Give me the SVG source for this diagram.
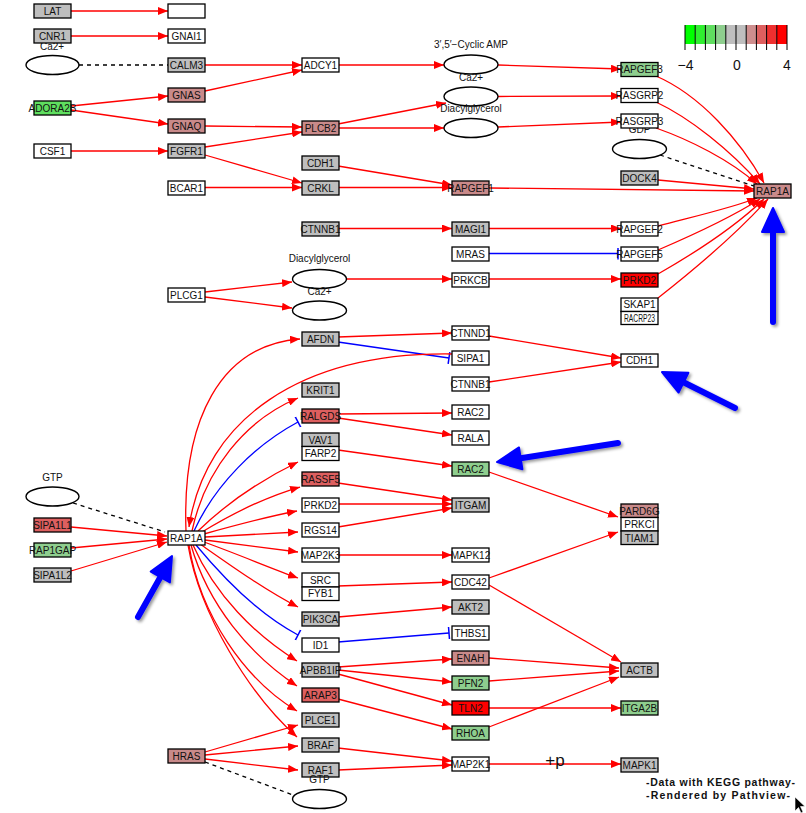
<svg xmlns="http://www.w3.org/2000/svg" width="806" height="813" viewBox="0 0 806 813">
<style>
rect.n{stroke:#000;stroke-width:1.3}
.w{fill:#fff}.g{fill:#bebebe}.lr{fill:#c98a8a}.mr{fill:#dd5f5f}.r{fill:#ff0000}.lg{fill:#8ece8e}.bg{fill:#5fde5f}
text{font-family:"Liberation Sans",Arial,sans-serif;fill:#111}
text.t{font-size:10px;text-anchor:middle}
ellipse{fill:#fff;stroke:#000;stroke-width:1.4}
#conn path{fill:none;stroke:#ff0000;stroke-width:1.3;marker-end:url(#ah)}
#conn path.b{stroke:#0000ff;marker-end:url(#tb)}
#conn path.d{stroke:#000;stroke-dasharray:4 4;marker-end:none}
</style>
<defs>
<marker id="ah" markerWidth="10" markerHeight="8" refX="10" refY="4" orient="auto" markerUnits="userSpaceOnUse"><path d="M0,0 L10,4 L0,8 z" fill="#ff0000"/></marker>
<marker id="tb" markerWidth="3" markerHeight="12" refX="1.5" refY="6" orient="auto" markerUnits="userSpaceOnUse"><path d="M1.5,0 V12" stroke="#0000ff" stroke-width="1.5"/></marker>
<filter id="sh" x="-20%" y="-20%" width="140%" height="140%"><feDropShadow dx="2" dy="2" stdDeviation="1.5" flood-color="#000" flood-opacity="0.4"/></filter>
</defs>
<rect width="806" height="813" fill="#fff"/>

<g id="conn">
<path d="M71,11 L168,11"/>
<path d="M71,36 L168,36"/>
<path class="d" d="M79,65 L168,65"/>
<path d="M205,65 L302,65"/>
<path d="M205,91 L302,70"/>
<path d="M71,106 L168,96"/>
<path d="M71,110 L168,124"/>
<path d="M205,126 L302,127"/>
<path d="M205,147 L302,132"/>
<path d="M71,151 L168,151"/>
<path d="M205,155 L302,183"/>
<path d="M205,187.5 L302,187.5"/>
<path d="M338,65 L444,65"/>
<path d="M338,124 L446,103"/>
<path d="M338,128 L444,128"/>
<path d="M338,166 L452,185"/>
<path d="M338,187.5 L452,187.5"/>
<path d="M498,65 L621,69"/>
<path d="M498,96.5 L621,96"/>
<path d="M498,127 L621,122"/>
<path d="M489,188 L754,191"/>
<path d="M656,76 C700,95 740,140 764,183"/>
<path d="M656,102 C690,118 730,150 760,184"/>
<path d="M656,128 C690,140 730,160 757,184"/>
<path class="d" d="M660,155 L754,186"/>
<path d="M658,180 L754,189"/>
<path d="M338,228.5 L452,228.5"/>
<path d="M489,228.5 L621,228.5"/>
<path class="b" d="M489,253.5 L618,253.5"/>
<path d="M205,292 L292,282"/>
<path d="M205,297 L292,308"/>
<path d="M346,279 L452,279"/>
<path d="M489,279 L621,279"/>
<path d="M658,226 C700,215 735,207 757,198"/>
<path d="M658,250 C700,232 735,215 760,199"/>
<path d="M658,274 C700,250 740,222 764,199"/>
<path d="M658,298 C700,265 740,230 768,199"/>

<path d="M338,337 L452,333"/>
<path class="b" d="M338,342 L449,358"/>
<path d="M489,336 L621,358"/>
<path d="M489,382 L621,362"/>
<path d="M452,354 C300,352 205,420 189,527"/>

<path d="M186,531 C182,420 220,345 300,339"/>
<path d="M192,531 C205,470 245,420 298,398"/>
<path class="b" d="M194,531 C215,485 255,445 298,422"/>
<path d="M198,531 C230,500 265,478 298,462"/>
<path d="M202,532 C235,512 265,497 300,487"/>
<path d="M204,534 C240,524 270,516 297,511"/>
<path d="M205,537 L298,532"/>
<path d="M205,540 L298,552"/>
<path d="M204,542 C240,555 270,568 298,578"/>
<path d="M200,544 C230,565 265,590 298,607"/>
<path class="b" d="M196,545 C225,580 260,615 298,635"/>
<path d="M193,545 C215,595 255,635 297,661"/>
<path d="M191,545 C208,605 250,655 297,686"/>
<path d="M189,545 C200,615 245,680 297,711"/>
<path d="M188,545 C200,615 250,695 297,737"/>

<path class="d" d="M73,503 L165,532"/>
<path d="M71,527 L167,536"/>
<path d="M71,548 L167,539"/>
<path d="M71,571 L167,542"/>

<path d="M338,414 L452,413"/>
<path d="M338,418 L452,435"/>
<path d="M338,450 L452,466"/>
<path d="M489,472 L618,517"/>
<path d="M489,578 L618,532"/>
<path d="M489,585 L621,662"/>
<path d="M338,483 L452,500"/>
<path d="M338,504 L452,504"/>
<path d="M338,527 L452,508"/>
<path d="M338,555 L452,555"/>
<path d="M338,586 L452,582"/>
<path d="M338,617 L452,607"/>
<path class="b" d="M338,642 L449,633"/>
<path d="M338,667 L452,659"/>
<path d="M338,670 L452,682"/>
<path d="M338,674 L452,705"/>
<path d="M338,699 L452,729"/>
<path d="M489,658 L619,668"/>
<path d="M489,681 L619,671"/>
<path d="M489,708 L621,708"/>
<path d="M489,727 L619,677"/>
<path d="M338,748 L452,761"/>
<path d="M338,770 L452,765"/>
<path d="M489,764 L621,764"/>
<path d="M205,752 L298,725"/>
<path d="M205,755 L298,746"/>
<path d="M205,759 L298,770"/>
<path class="d" d="M205,762 L293,795"/>
</g>

<!-- compounds -->
<g id="c_ca_left"><text class="t" x="52" y="50">Ca2+</text><ellipse cx="52.5" cy="65" rx="26.5" ry="9.5"/></g>
<g id="c_camp"><text class="t" x="471" y="47.5">3′,5′−Cyclic AMP</text><ellipse cx="471" cy="64.5" rx="27" ry="9.5"/></g>
<g id="c_ca2"><text class="t" x="471" y="81">Ca2+</text><ellipse cx="471" cy="96.5" rx="27" ry="9.5"/></g>
<g id="c_dag2"><text class="t" x="471" y="111.5">Diacylglycerol</text><ellipse cx="471" cy="128" rx="27" ry="9.5"/></g>
<g id="c_gdp"><text class="t" x="639.5" y="132.5">GDP</text><ellipse cx="639.5" cy="149" rx="27" ry="9.5"/></g>
<g id="c_dag1"><text class="t" x="319.5" y="262">Diacylglycerol</text><ellipse cx="319.5" cy="279" rx="27" ry="9.5"/></g>
<g id="c_ca1"><text class="t" x="319.5" y="294.5">Ca2+</text><ellipse cx="319.5" cy="310.5" rx="27" ry="9.5"/></g>
<g id="c_gtp1"><text class="t" x="52.5" y="480.5">GTP</text><ellipse cx="52.5" cy="496.5" rx="26.5" ry="9.5"/></g>
<g id="c_gtp2"><ellipse cx="319.5" cy="799" rx="27" ry="9.5"/></g>

<!-- column 1 -->
<g id="n_lat"><rect class="n g" x="34" y="4" width="37" height="14"/><text class="t" x="52.5" y="14.5">LAT</text></g>
<g id="n_cnr1"><rect class="n g" x="34" y="29" width="37" height="14"/><text class="t" x="52.5" y="39.5">CNR1</text></g>
<g id="n_adora2b"><rect class="n bg" x="34" y="101" width="37" height="14"/><text class="t" x="52.5" y="111.5">ADORA2B</text></g>
<g id="n_csf1"><rect class="n w" x="34" y="144" width="37" height="14"/><text class="t" x="52.5" y="154.5">CSF1</text></g>
<g id="n_sipa1l1"><rect class="n mr" x="34" y="518" width="37" height="14"/><text class="t" x="52.5" y="528.5">SIPA1L1</text></g>
<g id="n_rap1gap"><rect class="n lg" x="34" y="543" width="37" height="14"/><text class="t" x="52.5" y="553.5">RAP1GAP</text></g>
<g id="n_sipa1l2"><rect class="n g" x="34" y="568" width="37" height="14"/><text class="t" x="52.5" y="578.5">SIPA1L2</text></g>

<!-- column 2 -->
<g id="n_empty"><rect class="n w" x="168" y="4" width="37" height="14"/></g>
<g id="n_gnai1"><rect class="n w" x="168" y="29" width="37" height="14"/><text class="t" x="186.5" y="39.5">GNAI1</text></g>
<g id="n_calm3"><rect class="n g" x="168" y="58" width="37" height="14"/><text class="t" x="186.5" y="68.5">CALM3</text></g>
<g id="n_gnas"><rect class="n lr" x="168" y="88" width="37" height="14"/><text class="t" x="186.5" y="98.5">GNAS</text></g>
<g id="n_gnaq"><rect class="n lr" x="168" y="119" width="37" height="14"/><text class="t" x="186.5" y="129.5">GNAQ</text></g>
<g id="n_fgfr1"><rect class="n g" x="168" y="144" width="37" height="14"/><text class="t" x="186.5" y="154.5">FGFR1</text></g>
<g id="n_bcar1"><rect class="n w" x="168" y="181" width="37" height="14"/><text class="t" x="186.5" y="191.5">BCAR1</text></g>
<g id="n_plcg1"><rect class="n w" x="168" y="288" width="37" height="14"/><text class="t" x="186.5" y="298.5">PLCG1</text></g>
<g id="n_rap1a_l"><rect class="n w" x="168" y="531" width="37" height="14"/><text class="t" x="186.5" y="541.5">RAP1A</text></g>
<g id="n_hras"><rect class="n lr" x="168" y="749" width="37" height="14"/><text class="t" x="186.5" y="759.5">HRAS</text></g>

<!-- column 3 -->
<g id="n_adcy1"><rect class="n w" x="302" y="58" width="37" height="14"/><text class="t" x="320.5" y="68.5">ADCY1</text></g>
<g id="n_plcb2"><rect class="n lr" x="302" y="121" width="37" height="14"/><text class="t" x="320.5" y="131.5">PLCB2</text></g>
<g id="n_cdh1a"><rect class="n g" x="302" y="156" width="37" height="14"/><text class="t" x="320.5" y="166.5">CDH1</text></g>
<g id="n_crkl"><rect class="n g" x="302" y="181" width="37" height="14"/><text class="t" x="320.5" y="191.5">CRKL</text></g>
<g id="n_ctnnb1a"><rect class="n g" x="302" y="222" width="37" height="14"/><text class="t" x="320.5" y="232.5">CTNNB1</text></g>
<g id="n_afdn"><rect class="n g" x="302" y="332" width="37" height="14"/><text class="t" x="320.5" y="342.5">AFDN</text></g>
<g id="n_krit1"><rect class="n g" x="302" y="383" width="37" height="14"/><text class="t" x="320.5" y="393.5">KRIT1</text></g>
<g id="n_ralgds"><rect class="n mr" x="302" y="409" width="37" height="14"/><text class="t" x="320.5" y="419.5">RALGDS</text></g>
<g id="n_vav1"><rect class="n g" x="302" y="433" width="37" height="13.5"/><text class="t" x="320.5" y="443.5">VAV1</text><rect class="n w" x="302" y="446.5" width="37" height="14"/><text class="t" x="320.5" y="457">FARP2</text></g>
<g id="n_rassf5"><rect class="n mr" x="302" y="472" width="37" height="14"/><text class="t" x="320.5" y="482.5">RASSF5</text></g>
<g id="n_prkd2a"><rect class="n w" x="302" y="498" width="37" height="14"/><text class="t" x="320.5" y="508.5">PRKD2</text></g>
<g id="n_rgs14"><rect class="n w" x="302" y="523" width="37" height="14"/><text class="t" x="320.5" y="533.5">RGS14</text></g>
<g id="n_map2k3"><rect class="n w" x="302" y="548" width="37" height="14"/><text class="t" x="320.5" y="558.5">MAP2K3</text></g>
<g id="n_src"><rect class="n w" x="302" y="573" width="37" height="14"/><text class="t" x="320.5" y="583.5">SRC</text><rect class="n w" x="302" y="587" width="37" height="13.5"/><text class="t" x="320.5" y="597">FYB1</text></g>
<g id="n_pik3ca"><rect class="n g" x="302" y="612" width="37" height="14"/><text class="t" x="320.5" y="622.5">PIK3CA</text></g>
<g id="n_id1"><rect class="n w" x="302" y="638" width="37" height="14"/><text class="t" x="320.5" y="648.5">ID1</text></g>
<g id="n_apbb1ip"><rect class="n g" x="302" y="663" width="37" height="14"/><text class="t" x="320.5" y="673.5">APBB1IP</text></g>
<g id="n_arap3"><rect class="n mr" x="302" y="688" width="37" height="14"/><text class="t" x="320.5" y="698.5">ARAP3</text></g>
<g id="n_plce1"><rect class="n g" x="302" y="713" width="37" height="14"/><text class="t" x="320.5" y="723.5">PLCE1</text></g>
<g id="n_braf"><rect class="n g" x="302" y="738" width="37" height="14"/><text class="t" x="320.5" y="748.5">BRAF</text></g>
<g id="n_raf1"><rect class="n g" x="302" y="763" width="37" height="14"/><text class="t" x="320.5" y="773.5">RAF1</text></g>
<text class="t" x="319.5" y="782.5">GTP</text>

<!-- column 4 -->
<g id="n_rapgef1"><rect class="n lr" x="452" y="181" width="37" height="14"/><text class="t" x="470.5" y="191.5">RAPGEF1</text></g>
<g id="n_magi1"><rect class="n g" x="452" y="222" width="37" height="14"/><text class="t" x="470.5" y="232.5">MAGI1</text></g>
<g id="n_mras"><rect class="n w" x="452" y="247" width="37" height="14"/><text class="t" x="470.5" y="257.5">MRAS</text></g>
<g id="n_prkcb"><rect class="n w" x="452" y="273" width="37" height="14"/><text class="t" x="470.5" y="283.5">PRKCB</text></g>
<g id="n_ctnnd1"><rect class="n w" x="452" y="326" width="37" height="14"/><text class="t" x="470.5" y="336.5">CTNND1</text></g>
<g id="n_sipa1"><rect class="n w" x="452" y="351" width="37" height="14"/><text class="t" x="470.5" y="361.5">SIPA1</text></g>
<g id="n_ctnnb1b"><rect class="n w" x="452" y="377" width="37" height="14"/><text class="t" x="470.5" y="387.5">CTNNB1</text></g>
<g id="n_rac2a"><rect class="n w" x="452" y="405" width="37" height="14"/><text class="t" x="470.5" y="415.5">RAC2</text></g>
<g id="n_rala"><rect class="n w" x="452" y="431" width="37" height="14"/><text class="t" x="470.5" y="441.5">RALA</text></g>
<g id="n_rac2b"><rect class="n lg" x="452" y="462" width="37" height="14"/><text class="t" x="470.5" y="472.5">RAC2</text></g>
<g id="n_itgam"><rect class="n g" x="452" y="498" width="37" height="14"/><text class="t" x="470.5" y="508.5">ITGAM</text></g>
<g id="n_mapk12"><rect class="n w" x="452" y="548" width="37" height="14"/><text class="t" x="470.5" y="558.5">MAPK12</text></g>
<g id="n_cdc42"><rect class="n w" x="452" y="575" width="37" height="14"/><text class="t" x="470.5" y="585.5">CDC42</text></g>
<g id="n_akt2"><rect class="n g" x="452" y="600" width="37" height="14"/><text class="t" x="470.5" y="610.5">AKT2</text></g>
<g id="n_thbs1"><rect class="n w" x="452" y="626" width="37" height="14"/><text class="t" x="470.5" y="636.5">THBS1</text></g>
<g id="n_enah"><rect class="n lr" x="452" y="651" width="37" height="14"/><text class="t" x="470.5" y="661.5">ENAH</text></g>
<g id="n_pfn2"><rect class="n lg" x="452" y="676" width="37" height="14"/><text class="t" x="470.5" y="686.5">PFN2</text></g>
<g id="n_tln2"><rect class="n r" x="452" y="701" width="37" height="14"/><text class="t" x="470.5" y="711.5">TLN2</text></g>
<g id="n_rhoa"><rect class="n lg" x="452" y="726" width="37" height="14"/><text class="t" x="470.5" y="736.5">RHOA</text></g>
<g id="n_map2k1"><rect class="n w" x="452" y="757" width="37" height="14"/><text class="t" x="470.5" y="767.5">MAP2K1</text></g>

<!-- column 5 -->
<g id="n_rapgef3"><rect class="n lg" x="621" y="62.5" width="37" height="14"/><text class="t" x="639.5" y="73">RAPGEF3</text></g>
<g id="n_rasgrp2"><rect class="n w" x="621" y="88.5" width="37" height="14"/><text class="t" x="639.5" y="99">RASGRP2</text></g>
<g id="n_rasgrp3"><rect class="n w" x="621" y="114" width="37" height="14"/><text class="t" x="639.5" y="124.5">RASGRP3</text></g>
<g id="n_dock4"><rect class="n g" x="621" y="171" width="37" height="14"/><text class="t" x="639.5" y="181.5">DOCK4</text></g>
<g id="n_rapgef2"><rect class="n w" x="621" y="222" width="37" height="14"/><text class="t" x="639.5" y="232.5">RAPGEF2</text></g>
<g id="n_rapgef5"><rect class="n w" x="621" y="247" width="37" height="14"/><text class="t" x="639.5" y="257.5">RAPGEF5</text></g>
<g id="n_prkd2b"><rect class="n r" x="621" y="273" width="37" height="14"/><text class="t" x="639.5" y="283.5">PRKD2</text></g>
<g id="n_skap1"><rect class="n w" x="621" y="298" width="37" height="13.5"/><text class="t" x="639.5" y="308">SKAP1</text><rect class="n w" x="621" y="311.5" width="37" height="13"/><text class="t" x="639.5" y="321.5" font-size="9" textLength="31" lengthAdjust="spacingAndGlyphs">RACRP23</text></g>
<g id="n_cdh1b"><rect class="n w" x="621" y="354" width="37" height="13"/><text class="t" x="639.5" y="364">CDH1</text></g>
<g id="n_pard6g"><rect class="n lr" x="621" y="504" width="37" height="13.5"/><text class="t" x="639.5" y="514.5">PARD6G</text><rect class="n w" x="621" y="517.5" width="37" height="13.5"/><text class="t" x="639.5" y="528">PRKCI</text><rect class="n g" x="621" y="531" width="37" height="13.5"/><text class="t" x="639.5" y="541.5">TIAM1</text></g>
<g id="n_actb"><rect class="n g" x="621" y="663" width="37" height="14"/><text class="t" x="639.5" y="673.5">ACTB</text></g>
<g id="n_itga2b"><rect class="n lg" x="621" y="701" width="37" height="14"/><text class="t" x="639.5" y="711.5">ITGA2B</text></g>
<g id="n_mapk1"><rect class="n g" x="621" y="758" width="37" height="14"/><text class="t" x="639.5" y="768.5">MAPK1</text></g>
<g id="n_rap1a_r"><rect class="n lr" x="754" y="184" width="37" height="14"/><text class="t" x="772.5" y="194.5">RAP1A</text></g>

<text x="555" y="766" font-size="17" text-anchor="middle">+p</text>

<!-- colour key -->
<g id="legend">
<rect x="685" y="25" width="10.2" height="19" fill="#00ff00"/>
<rect x="695.2" y="25" width="10.2" height="19" fill="#2fef2f"/>
<rect x="705.4" y="25" width="10.2" height="19" fill="#5fde5f"/>
<rect x="715.6" y="25" width="10.2" height="19" fill="#8ece8e"/>
<rect x="725.8" y="25" width="10.2" height="19" fill="#bebebe"/>
<rect x="736" y="25" width="10.2" height="19" fill="#bebebe"/>
<rect x="746.2" y="25" width="10.2" height="19" fill="#ce8e8e"/>
<rect x="756.4" y="25" width="10.2" height="19" fill="#de5f5f"/>
<rect x="766.6" y="25" width="10.2" height="19" fill="#ef2f2f"/>
<rect x="776.8" y="25" width="10.2" height="19" fill="#ff0000"/>
<path d="M685,25V50M695.2,25V50M705.4,25V50M715.6,25V50M725.8,25V50M736,25V50M746.2,25V50M756.4,25V50M766.6,25V50M776.8,25V50M787,25V50" stroke="#000" stroke-width="1"/>
<text x="685.5" y="70" font-size="14" text-anchor="middle">−4</text>
<text x="737" y="70" font-size="14" text-anchor="middle">0</text>
<text x="787" y="70" font-size="14" text-anchor="middle">4</text>
</g>

<!-- annotation arrows -->
<g id="annot" filter="url(#sh)" fill="#0000ff" stroke="#0000ff" stroke-linecap="round" stroke-linejoin="round">
<line x1="773" y1="322" x2="773" y2="228" stroke-width="6"/>
<polygon points="773,208 784,232 762,232" stroke-width="2"/>
<line x1="735" y1="408" x2="681" y2="381" stroke-width="6"/>
<polygon points="662,372 688.4,372.7 678.6,392.5" stroke-width="2"/>
<line x1="618" y1="443" x2="519" y2="458.5" stroke-width="6"/>
<polygon points="497,462 522.4,469.2 519,447.4" stroke-width="2"/>
<line x1="138" y1="617" x2="161" y2="576" stroke-width="6"/>
<polygon points="172,556 169.9,582.4 150.7,571.6" stroke-width="2"/>
</g>

<g id="footer">
<text x="646" y="785.5" font-size="10.5" font-weight="bold" textLength="149" lengthAdjust="spacing">-Data with KEGG pathway-</text>
<text x="646" y="799" font-size="10.5" font-weight="bold" textLength="144" lengthAdjust="spacing">-Rendered  by  Pathview-</text>
</g>
<path d="M795,797 L795,811 L798.5,807.5 L801,813 L803,812 L800.5,806.5 L805,806.5 Z" fill="#000" stroke="#fff" stroke-width="0.6"/>
</svg>
